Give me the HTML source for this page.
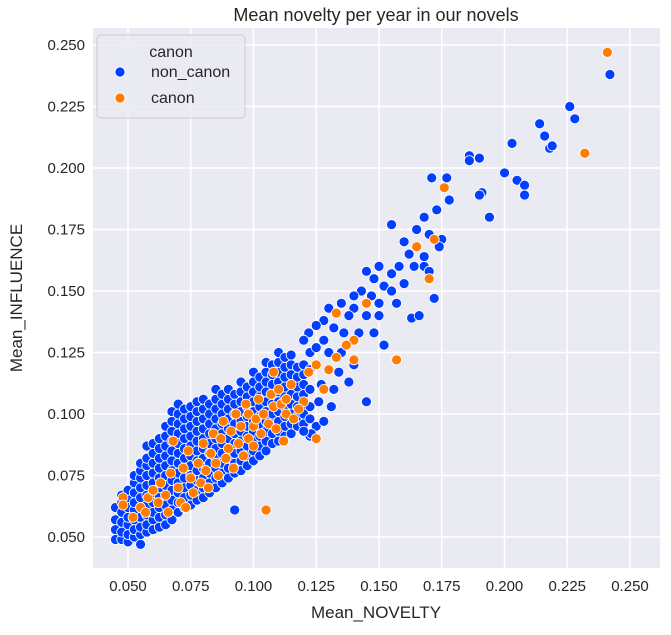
<!DOCTYPE html>
<html><head><meta charset="utf-8">
<style>
body{margin:0;background:#fff;font-family:"Liberation Sans",sans-serif;}
svg text{font-family:"Liberation Sans",sans-serif;fill:#262626;}
</style></head>
<body>
<svg id="chart" width="671" height="630"></svg>
<script>
const xTicks=[0.05,0.075,0.1,0.125,0.15,0.175,0.2,0.225,0.25];
const yTicks=[0.05,0.075,0.1,0.125,0.15,0.175,0.2,0.225,0.25];
const xTickLabels=["0.050","0.075","0.100","0.125","0.150","0.175","0.200","0.225","0.250"];
const yTickLabels=["0.050","0.075","0.100","0.125","0.150","0.175","0.200","0.225","0.250"];
// dense band columns: [x, y1, y2, ...] in thousandths
const blueCols=[
[45,49,53,57,62],[47.5,49,52,56,60,64,67],[50,48,51,55,58,62,66,69],[52.5,50,53,57,61,64,68,72,75],
[55,47,51,54,58,62,66,70,74,77,80],[57.5,52,55,59,63,67,71,75,79,82,87],[60,53,57,60,64,68,72,76,80,84,88],
[62.5,54,58,62,66,70,74,78,82,86,90],[65,55,59,63,67,71,75,79,83,87,91,95],[67.5,57,61,65,69,73,77,81,85,89,93,97,101],
[70,60,64,68,72,76,80,84,88,92,96,100,104],[72.5,62,66,70,74,78,82,86,90,94,98,102],[75,63,67,71,75,79,83,87,91,95,99,103],
[77.5,65,69,73,77,81,85,89,93,97,101,105],[80,66,70,74,78,82,86,90,94,98,102,106],[82.5,68,72,76,80,84,88,92,96,100,104],
[85,70,74,78,82,86,90,94,98,102,106,110],[87.5,72,76,80,84,88,92,96,100,104,108],[90,74,78,82,86,90,94,98,102,106,110],
[92.5,61,76,80,84,88,92,96,100,104,108],[95,77,81,85,89,93,97,101,105,109,113],[97.5,79,83,87,91,95,99,103,107,111],
[100,81,85,89,93,97,101,105,109,113,117],[102.5,83,87,91,95,99,103,107,111,115],[105,85,89,93,97,101,105,109,113,117,121],
[107.5,88,92,96,100,104,108,112,116,120],[110,89,93,97,101,105,109,113,117,121,125],[112.5,91,95,99,103,107,111,115,119,123],
[115,92,96,100,104,108,112,116,120,124],[117.5,95,99,103,107,111,115,119],[120,96,100,104,108,112,116,120],
[122.5,91,98,103,110,118,125]];
const blueExtra=[[242,238],[226,225],[228,220],[214,218],[216,213],[218,208],[219,209],[203,210],[200,198],[205,195],[208,193],[208,189],
[186,205],[186,203],[190,204],[191,190],[190,189],[194,180],[177,196],[171,196],[178,187],[173,183],[168,180],[165,175],[170,173],
[175,171],[174,168],[168,164],[160,170],[155,177],[162,165],[164,160],[168,160],[170,158],[158,160],[155,157],[150,160],[148,155],
[145,158],[152,152],[160,153],[157,145],[163,139],[166,140],[172,147],[155,150],[150,145],[147,148],[143,150],[140,148],[145,140],
[150,140],[148,133],[152,128],[140,143],[135,145],[138,140],[130,143],[132,135],[136,133],[142,133],[128,138],[125,136],[128,130],
[122,133],[120,130],[125,127],[130,125],[135,125],[140,120],[138,113],[132,110],[134,117],[145,105],[125,95],[123,92],[120,93],[128,97],
[127,112],[131,103],[126,105]];
const orangeData=[[241,247],[232,206],[176,192],[172,171],[165,168],[170,155],[157,122],[145,145],[140,130],[133,141],[137,128],[140,122],
[133,123],[130,118],[125,120],[122,117],[128,110],[120,105],[115,112],[118,102],[113,100],[125,90],[112,89],[105,61],[100,95],
[98,100],[48,66],[48,63],[52,58],[55,62],[57,60],[58,66],[60,69],[62,64],[63,72],[65,67],[66,60],[67,76],[68,89],
[70,70],[71,64],[72,78],[73,62],[74,85],[75,74],[76,68],[78,80],[79,72],[80,88],[81,77],[82,70],[83,84],[84,92],
[85,80],[86,75],[87,90],[88,97],[89,82],[90,86],[91,93],[92,78],[93,100],[94,88],[95,95],[96,83],[97,104],[98,90],
[100,87],[101,98],[102,106],[103,92],[104,100],[106,96],[107,108],[108,103],[109,94],[110,110],[111,104],[113,106],[116,98],[108,117]];

const X0=128,X1=630,Y0=537,Y1=45;
const sx=v=>X0+(v-0.05)/0.2*(X1-X0);
const sy=v=>Y0-(v-0.05)/0.2*(Y0-Y1);
const NS="http://www.w3.org/2000/svg";
const svg=document.getElementById('chart');
function mk(tag,attrs,parent){const e=document.createElementNS(NS,tag);for(const k in attrs)e.setAttribute(k,attrs[k]);(parent||svg).appendChild(e);return e;}

const bg=mk('rect',{x:93,y:28,width:567,height:540,fill:'#eaeaf2'});


const grid=mk('g',{});


xTicks.forEach((t,i)=>{
  mk('line',{x1:sx(t),x2:sx(t),y1:28,y2:568,stroke:'#fff','stroke-width':1.5},grid);
  const tx=mk('text',{x:sx(t),y:591,'text-anchor':'middle','font-size':15});
  tx.textContent=xTickLabels[i];
  
  
});
yTicks.forEach((t,i)=>{
  mk('line',{x1:93,x2:660,y1:sy(t),y2:sy(t),stroke:'#fff','stroke-width':1.5},grid);
  const tx=mk('text',{x:85,y:sy(t)+5,'text-anchor':'end','font-size':15});
  tx.textContent=yTickLabels[i];
  
  
});
const pts=mk('g',{});


function dot(x,y,c){
  const p=mk('circle',{cx:sx(x/1000),cy:sy(y/1000),r:5,fill:c,stroke:'#fff','stroke-width':0.8},pts);
  
  
}
blueCols.forEach(col=>{for(let i=1;i<col.length;i++)dot(col[0],col[i],'#023eff');});
blueExtra.forEach(d=>dot(d[0],d[1],'#023eff'));
orangeData.forEach(d=>dot(d[0],d[1],'#ff7c00'));

const title=mk('text',{x:376,y:21,'text-anchor':'middle','font-size':18});
title.textContent='Mean novelty per year in our novels';


const xl=mk('text',{x:376,y:618,'text-anchor':'middle','font-size':17});
xl.textContent='Mean_NOVELTY';


const yl=mk('text',{x:0,y:0,'text-anchor':'middle','font-size':17,transform:'translate(22,298) rotate(-90)'});
yl.textContent='Mean_INFLUENCE';



const lg=mk('g',{});


mk('rect',{x:97,y:35,width:148,height:83,rx:4,fill:'#eaeaf2',stroke:'#ccc','stroke-width':1,'fill-opacity':0.8},lg);
const lt=mk('text',{x:171,y:57,'text-anchor':'middle','font-size':16},lg);
lt.textContent='canon';


[['non_canon','#023eff',77],['canon','#ff7c00',103]].forEach(([n,c,y])=>{
  const e=mk('g',{},lg);
  
  
  mk('circle',{cx:120,cy:y-5,r:5,fill:c,stroke:'#fff','stroke-width':0.8},e);
  const t=mk('text',{x:151,y:y,'font-size':16},e);
  t.textContent=n;
});
</script>
</body></html>
